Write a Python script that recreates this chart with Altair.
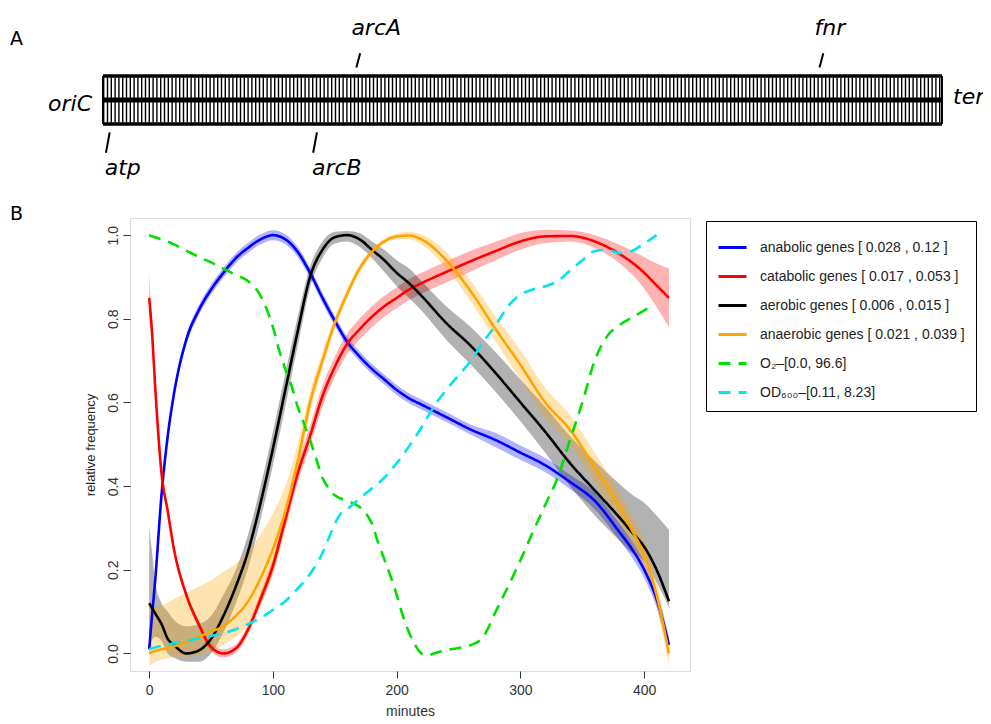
import altair as alt
import pandas as pd

# ------------------------- Panel A : chromosome map -------------------------
genome_span = [0, 100]                       # % of the way from oriC to ter
end_labels = ["oriC", "ter"]
gene_names = ["arcA", "fnr", "atp", "arcB"]
gene_pos = [30.2, 85.4, 0.8, 25.5]
gene_side = [1, 1, -1, -1]                   # 1 = upper arm, -1 = lower arm

# ------------------------- Panel B : time courses ---------------------------
series_names = [
    "anabolic genes [ 0.028 , 0.12 ]",
    "catabolic genes [ 0.017 , 0.053 ]",
    "aerobic genes [ 0.006 , 0.015 ]",
    "anaerobic genes [ 0.021 , 0.039 ]",
    "O\u2082\u2013[0.0, 96.6]",
    "OD\u2086\u2080\u2080\u2013[0.11, 8.23]",
]
series_colors = ["#0000FF", "#FF0000", "#000000", "#FFA500", "#00E000", "#00E5EE"]
series_dash = [[1, 0], [1, 0], [1, 0], [1, 0], [12, 8], [12, 8]]

minutes = [0, 2, 5, 10, 15, 20, 30, 40, 50, 60, 70, 80, 90, 100, 110, 120, 130, 140,
           150, 160, 170, 180, 190, 200, 210, 220, 240, 260, 280, 300, 320, 340, 360,
           380, 390, 400, 410, 420]

anabolic = [0.01, 0.08, 0.18, 0.38, 0.52, 0.62, 0.75, 0.82, 0.87, 0.91, 0.945, 0.97,
            0.99, 1.0, 0.99, 0.96, 0.91, 0.85, 0.795, 0.745, 0.71, 0.68, 0.655, 0.63,
            0.61, 0.595, 0.565, 0.535, 0.51, 0.48, 0.45, 0.41, 0.365, 0.29, 0.25, 0.2,
            0.13, 0.02]
anabolic_spread = [0.01] + [0.012] * 27 + [0.017] * 4 + [0.02] * 6

catabolic = [0.85, 0.78, 0.63, 0.43, 0.34, 0.25, 0.14, 0.07, 0.015, 0.0, 0.012, 0.058,
             0.13, 0.21, 0.32, 0.43, 0.52, 0.615, 0.685, 0.74, 0.775, 0.805, 0.83, 0.85,
             0.87, 0.885, 0.912, 0.938, 0.962, 0.985, 0.997, 0.998, 0.985, 0.955, 0.935,
             0.91, 0.88, 0.85]
catabolic_spread = [0.06, 0.015, 0.01, 0.01, 0.01, 0.01, 0.01, 0.01, 0.01, 0.01, 0.01,
                    0.012, 0.015, 0.018, 0.02, 0.022, 0.025, 0.025, 0.025, 0.025, 0.025,
                    0.025, 0.025, 0.025, 0.025, 0.025, 0.025, 0.025, 0.022, 0.02, 0.016,
                    0.013, 0.015, 0.022, 0.028, 0.038, 0.052, 0.07]

aerobic = [0.12, 0.11, 0.095, 0.07, 0.035, 0.02, 0.0, 0.007, 0.035, 0.09, 0.16, 0.245,
           0.36, 0.49, 0.63, 0.77, 0.9, 0.965, 0.995, 1.0, 0.99, 0.965, 0.94, 0.91,
           0.885, 0.855, 0.79, 0.735, 0.67, 0.6, 0.53, 0.455, 0.39, 0.325, 0.29, 0.255,
           0.2, 0.125]
aerobic_lo = [0.0, 0.03, 0.04, 0.03, 0.0, -0.01, -0.02, -0.02, 0.0, 0.05, 0.12, 0.205,
              0.32, 0.45, 0.59, 0.735, 0.875, 0.945, 0.98, 0.985, 0.972, 0.945, 0.912,
              0.878, 0.85, 0.82, 0.75, 0.69, 0.625, 0.555, 0.48, 0.4, 0.33, 0.27, 0.24,
              0.22, 0.17, 0.11]
aerobic_hi = [0.3, 0.25, 0.17, 0.12, 0.1, 0.08, 0.065, 0.07, 0.09, 0.14, 0.2, 0.285,
              0.4, 0.53, 0.67, 0.805, 0.925, 0.985, 1.008, 1.01, 1.005, 0.985, 0.965,
              0.94, 0.92, 0.89, 0.83, 0.78, 0.72, 0.655, 0.59, 0.52, 0.46, 0.405, 0.38,
              0.36, 0.33, 0.295]

anaerobic = [0.0, 0.003, 0.006, 0.01, 0.013, 0.017, 0.028, 0.04, 0.052, 0.065, 0.09,
             0.125, 0.18, 0.25, 0.34, 0.46, 0.6, 0.7, 0.79, 0.86, 0.92, 0.96, 0.985,
             0.997, 0.999, 0.99, 0.94, 0.865, 0.775, 0.69, 0.6, 0.535, 0.445, 0.35,
             0.295, 0.235, 0.14, 0.0]
anaerobic_lo = [-0.03, -0.025, -0.02, -0.015, -0.012, -0.01, -0.008, -0.005, 0.005,
                0.02, 0.04, 0.07, 0.115, 0.19, 0.3, 0.43, 0.575, 0.68, 0.775, 0.848,
                0.91, 0.952, 0.978, 0.99, 0.99, 0.978, 0.92, 0.84, 0.745, 0.655, 0.565,
                0.5, 0.41, 0.315, 0.26, 0.2, 0.11, -0.03]
anaerobic_hi = [0.1, 0.105, 0.11, 0.115, 0.122, 0.13, 0.145, 0.16, 0.175, 0.195, 0.215,
                0.245, 0.285, 0.335, 0.4, 0.5, 0.625, 0.72, 0.805, 0.872, 0.93, 0.968,
                0.992, 1.004, 1.008, 1.002, 0.96, 0.89, 0.805, 0.725, 0.635, 0.57, 0.48,
                0.385, 0.33, 0.27, 0.17, 0.03]

o2_minutes = [0, 10, 20, 30, 40, 50, 60, 70, 80, 90, 100, 105, 110, 115, 120, 125, 130,
              135, 140, 145, 150, 160, 170, 175, 180, 185, 190, 195, 200, 205, 210, 215,
              220, 225, 230, 240, 250, 260, 270, 280, 290, 300, 310, 320, 330, 340, 350,
              360, 370, 380, 390, 400, 406]
o2 = [1.0, 0.99, 0.978, 0.963, 0.948, 0.935, 0.92, 0.905, 0.89, 0.855, 0.78, 0.725, 0.68,
      0.64, 0.59, 0.55, 0.51, 0.465, 0.42, 0.395, 0.378, 0.365, 0.35, 0.335, 0.31, 0.265,
      0.225, 0.185, 0.14, 0.09, 0.05, 0.02, 0.0, -0.005, 0.0, 0.008, 0.013, 0.02, 0.04,
      0.1, 0.16, 0.223, 0.29, 0.355, 0.42, 0.51, 0.6, 0.7, 0.758, 0.785, 0.803, 0.82, 0.83]

od_minutes = [0, 10, 20, 30, 40, 50, 60, 70, 80, 90, 100, 110, 120, 130, 140, 145, 150,
              155, 160, 165, 170, 180, 190, 200, 210, 220, 230, 240, 250, 260, 270, 280,
              290, 300, 310, 320, 330, 340, 350, 360, 370, 380, 390, 400, 410]
od600 = [0.01, 0.018, 0.024, 0.03, 0.036, 0.042, 0.048, 0.058, 0.07, 0.085, 0.104, 0.125,
         0.155, 0.19, 0.24, 0.275, 0.31, 0.335, 0.345, 0.357, 0.37, 0.395, 0.42, 0.455,
         0.495, 0.54, 0.59, 0.63, 0.665, 0.7, 0.745, 0.785, 0.83, 0.858, 0.87, 0.878,
         0.89, 0.915, 0.94, 0.962, 0.965, 0.957, 0.962, 0.98, 1.0]

# ------------------------- tables ---------------------------
band_rows, line_rows = [], []
gene_sets = [
    (series_names[0], anabolic,
     [v - s for v, s in zip(anabolic, anabolic_spread)],
     [v + s for v, s in zip(anabolic, anabolic_spread)]),
    (series_names[1], catabolic,
     [v - s for v, s in zip(catabolic, catabolic_spread)],
     [v + s for v, s in zip(catabolic, catabolic_spread)]),
    (series_names[2], aerobic, aerobic_lo, aerobic_hi),
    (series_names[3], anaerobic, anaerobic_lo, anaerobic_hi),
]
for name, vals, lo, hi in gene_sets:
    for m, v, l, h in zip(minutes, vals, lo, hi):
        band_rows.append({"series": name, "minutes": m, "lo": l, "hi": h})
        line_rows.append({"series": name, "minutes": m, "value": v})
for m, v in zip(o2_minutes, o2):
    line_rows.append({"series": series_names[4], "minutes": m, "value": v})
for m, v in zip(od_minutes, od600):
    line_rows.append({"series": series_names[5], "minutes": m, "value": v})
bands = pd.DataFrame(band_rows)
lines = pd.DataFrame(line_rows)

outer = pd.DataFrame({"x0": [genome_span[0]] * 2, "x1": [genome_span[1]] * 2, "y": [1, -1]})
middle = pd.DataFrame({"x0": [genome_span[0]], "x1": [genome_span[1]], "y": [0]})
hatch = pd.DataFrame({"x0": [genome_span[0]] * 2, "x1": [genome_span[1]] * 2, "y": [0.5, -0.5]})
caps = pd.DataFrame({"x": genome_span, "y0": [-1, -1], "y1": [1, 1]})
genes = pd.DataFrame({"gene": gene_names, "pos": gene_pos, "side": gene_side})
genes["x_far"] = genes["pos"] + 0.45 * genes["side"]
genes["y_near"] = genes["side"] * 1.35
genes["y_far"] = genes["side"].map({1: 1.95, -1: -2.2})
genes["y_lab"] = genes["side"].map({1: 2.71, -1: -3.12})
ends = pd.DataFrame({"label": end_labels, "x": genome_span, "y": [0, 0]})
letters = pd.DataFrame({"t": ["A"]})
letters_b = pd.DataFrame({"t": ["B"]})

# ------------------------- Panel A chart ---------------------------
xA = alt.Scale(domain=[0, 100], range=[-27, 812], nice=False, zero=False)
yA = alt.Scale(domain=[-1, 1], range=[-94, -142], nice=False, zero=False)
gene_font = dict(font="DejaVu Sans", fontStyle="italic", fontSize=22, color="black")

hatch_l = alt.Chart(hatch).mark_rule(color="black", strokeWidth=21, strokeDash=[1.4, 2.4]).encode(
    x=alt.X("x0:Q", scale=xA, axis=None), x2="x1:Q", y=alt.Y("y:Q", scale=yA, axis=None))
outer_l = alt.Chart(outer).mark_rule(color="black", strokeWidth=3.5).encode(
    x=alt.X("x0:Q", scale=xA, axis=None), x2="x1:Q", y=alt.Y("y:Q", scale=yA, axis=None))
middle_l = alt.Chart(middle).mark_rule(color="black", strokeWidth=5).encode(
    x=alt.X("x0:Q", scale=xA, axis=None), x2="x1:Q", y=alt.Y("y:Q", scale=yA, axis=None))
caps_l = alt.Chart(caps).mark_rule(color="black", strokeWidth=2).encode(
    x=alt.X("x:Q", scale=xA, axis=None), y=alt.Y("y0:Q", scale=yA, axis=None), y2="y1:Q")
ticks_l = alt.Chart(genes).mark_rule(color="black", strokeWidth=2).encode(
    x=alt.X("pos:Q", scale=xA, axis=None), x2="x_far:Q",
    y=alt.Y("y_near:Q", scale=yA, axis=None), y2="y_far:Q")
glab_l = alt.Chart(genes).mark_text(align="left", baseline="alphabetic", dx=-5, **gene_font).encode(
    x=alt.X("pos:Q", scale=xA, axis=None), y=alt.Y("y_lab:Q", scale=yA, axis=None), text="gene:N")
ori_l = alt.Chart(ends).transform_filter(alt.datum.x == genome_span[0]).mark_text(
    align="right", baseline="middle", dx=-11, dy=4, **gene_font).encode(
    x=alt.X("x:Q", scale=xA, axis=None), y=alt.Y("y:Q", scale=yA, axis=None), text="label:N")
ter_l = alt.Chart(ends).transform_filter(alt.datum.x == genome_span[1]).mark_text(
    align="left", baseline="middle", dx=11, dy=-3, **gene_font).encode(
    x=alt.X("x:Q", scale=xA, axis=None), y=alt.Y("y:Q", scale=yA, axis=None), text="label:N")
letA = alt.Chart(letters).mark_text(align="left", baseline="alphabetic", font="DejaVu Sans",
                                    fontSize=19, color="black").encode(
    x=alt.value(-120), y=alt.value(-173), text="t:N")
letB = alt.Chart(letters_b).mark_text(align="left", baseline="alphabetic", font="DejaVu Sans",
                                      fontSize=19, color="black").encode(
    x=alt.value(-120), y=alt.value(2), text="t:N")

panelA = alt.layer(hatch_l, outer_l, middle_l, caps_l, ticks_l, glab_l, ori_l, ter_l, letA, letB)

# ------------------------- Panel B chart ---------------------------
xB = alt.Scale(domain=[-15.5, 437], nice=False, zero=False)
yB = alt.Scale(domain=[-0.042, 1.041], nice=False, zero=False)
x_axis = alt.Axis(values=[0, 100, 200, 300, 400], title="minutes", grid=False, domain=False,
                  tickSize=7, tickColor="#333", labelFont="Liberation Sans", labelFontSize=14,
                  labelColor="#333", labelPadding=5, labelFlush=False,
                  titleFont="Liberation Sans", titleFontSize=14, titleFontWeight="normal",
                  titleColor="#333", titlePadding=7)
y_axis = alt.Axis(values=[0, 0.2, 0.4, 0.6, 0.8, 1.0], format=".1f", title="relative frequency",
                  grid=False, domain=False, tickSize=7, tickColor="#333",
                  labelFont="Liberation Sans", labelFontSize=14, labelColor="#333",
                  labelAngle=270, labelAlign="center", labelBaseline="alphabetic",
                  labelPadding=6, labelFlush=False,
                  titleFont="Liberation Sans", titleFontSize=13, titleFontWeight="normal",
                  titleColor="#222", titlePadding=9)

legend = alt.Legend(title=None, orient="none", legendX=576, legendY=3, strokeColor="black",
                    padding=11, labelFont="Liberation Sans", labelFontSize=14,
                    labelColor="#222", symbolType="stroke", symbolSize=784,
                    symbolStrokeWidth=3, labelOffset=12, rowPadding=6, labelLimit=400)

band_l = alt.Chart(bands).mark_area(opacity=0.3, interpolate="monotone").encode(
    x=alt.X("minutes:Q", scale=xB, axis=x_axis),
    y=alt.Y("lo:Q", scale=yB, axis=y_axis),
    y2="hi:Q",
    fill=alt.Fill("series:N", scale=alt.Scale(domain=series_names[:4], range=series_colors[:4]),
                  legend=None),
)
line_l = alt.Chart(lines).mark_line(interpolate="monotone", strokeWidth=2.6).encode(
    x=alt.X("minutes:Q", scale=xB, axis=x_axis),
    y=alt.Y("value:Q", scale=yB, axis=y_axis),
    color=alt.Color("series:N", scale=alt.Scale(domain=series_names, range=series_colors),
                    legend=legend),
    strokeDash=alt.StrokeDash("series:N", scale=alt.Scale(domain=series_names, range=series_dash),
                              legend=legend),
)
panelB = alt.layer(band_l, line_l)

chart = alt.layer(panelA, panelB).resolve_scale(
    x="independent", y="independent"
).properties(
    width=560, height=453,
    autosize=alt.AutoSizeParams(type="none"),
    padding={"left": 122, "top": 210, "right": 293, "bottom": 50},
).configure_view(stroke="black", strokeWidth=2).configure(background="white")

chart.save("out.html", embed_options={"renderer": "svg", "actions": False})
